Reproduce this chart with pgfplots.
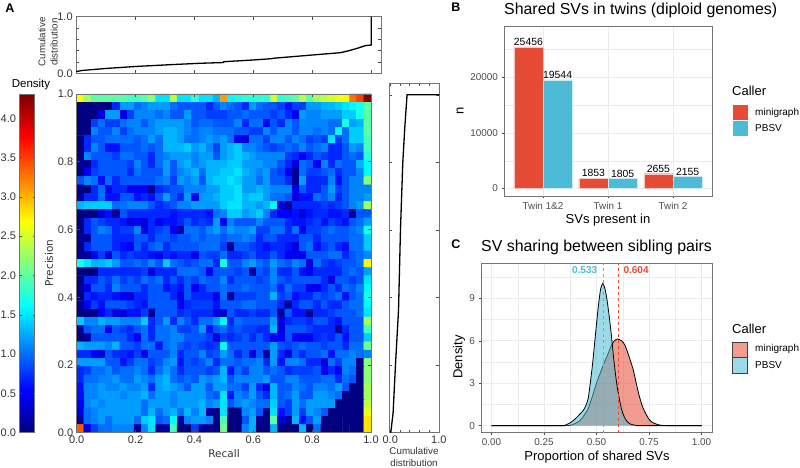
\documentclass[border=0pt]{standalone}
\usepackage{fontspec}
\setmainfont{Liberation Sans}
\newfontfamily\djv{DejaVu Sans}
\usepackage{pgfplots}
\pgfplotsset{compat=1.18}
\definecolor{npgred}{HTML}{E64B35}
\definecolor{npgblue}{HTML}{4DBBD5}
\definecolor{frameg}{gray}{0.45}
\definecolor{gridg}{gray}{0.92}
\definecolor{tickg}{gray}{0.3}
\pgfplotsset{
    panelA/.style={
        scale only axis,
        axis line style={draw=frameg,line width=0.9pt},
        tick align=inside,
        major tick length=3pt,
        tick style={draw=black!70,line width=0.5pt},
        ticklabel style={font=\fontsize{11}{13}\selectfont,text=black!80},
        /pgf/number format/assume math mode=true,
    },
    gg/.style={
        scale only axis,
        axis line style={draw=frameg,line width=0.9pt},
        tick align=outside,
        major tick length=2.5pt,
        tick style={draw=tickg,line width=0.5pt},
        xtick pos=bottom,ytick pos=left,
        scaled y ticks=false,
        ticklabel style={font=\fontsize{9.9}{11}\selectfont,text=tickg},
        grid=both,
        major grid style={draw=gridg,line width=0.7pt},
        minor grid style={draw=gridg,line width=0.35pt},
        minor tick length=0pt,
        /pgf/number format/assume math mode=true,
        /pgf/number format/1000 sep={},
    },
}
\begin{document}
\begin{tikzpicture}[x=1pt,y=1pt]
\useasboundingbox (0,0) rectangle (800,468);

% A: top marginal
\begin{axis}[panelA,at={(76.2pt,394.7pt)},anchor=south west,width=305pt,height=56.6pt,
    xmin=0,xmax=1.034,ymin=0,ymax=1,
    xtick={0.2,0.4,0.6,0.8,1.0},xticklabels={},
    ytick={0,0.2,0.4,0.6,0.8,1},yticklabels={0.0,,,,,1.0}]
\addplot[black,line width=1.3pt] coordinates {
(0,0.03) (0.02,0.05) (0.1,0.085) (0.2,0.12) (0.33,0.155) (0.42,0.177) (0.499,0.19) (0.5,0.205)
(0.6,0.235) (0.666,0.26) (0.667,0.265) (0.8,0.323) (0.896,0.364) (0.925,0.4) (0.952,0.44) (0.98,0.488) (1.0,0.5) (1.0,1.0)};
\end{axis}

% A: right marginal
\begin{axis}[panelA,at={(389.3pt,35.3pt)},anchor=south west,width=50pt,height=349.4pt,
    xmin=-0.02,xmax=1.01,ymin=0,ymax=1.034,
    xtick={0,0.2,0.4,0.6,0.8,1},xticklabels={0.0,,,,,1.0},
    ytick={0.2,0.4,0.6,0.8,1.0},yticklabels={}]
\addplot[black,line width=1.3pt] coordinates {
(0.01,0) (0.058,0.058) (0.107,0.2) (0.17,0.363) (0.21,0.6) (0.258,0.8) (0.30,0.905) (0.346,1.0) (1.01,1.0)};
\end{axis}

% A: heatmap
\begin{axis}[panelA,at={(76.7pt,35.3pt)},anchor=south west,width=294.3pt,height=338.7pt,
    xmin=0,xmax=1,ymin=0,ymax=1,axis on top,
    xtick={0,0.2,0.4,0.6,0.8,1},xticklabels={0.0,0.2,0.4,0.6,0.8,1.0},
    ytick={0,0.2,0.4,0.6,0.8,1},yticklabels={0.0,0.2,0.4,0.6,0.8,1.0},
    colormap/jet,point meta min=0,point meta max=4.3,
    colorbar,
    colorbar style={
        at={(parent axis.south west)},anchor=south west,xshift=-65.7pt,
        width=15pt,height=338pt,
        ytick={0,0.5,1,1.5,2,2.5,3,3.5,4},
        yticklabels={0.0,0.5,1.0,1.5,2.0,2.5,3.0,3.5,4.0},
        yticklabel pos=left,
        tick align=inside,
        major tick length=2pt,
        axis line style={draw=frameg,line width=0.6pt},
        tick style={draw=black!70,line width=0.4pt},
        ticklabel style={font=\fontsize{11}{13}\selectfont,text=black!80},
        /pgf/number format/assume math mode=true,
    }]
\addplot[matrix plot*,mesh/cols=41,point meta=explicit] table[header=false,row sep=\\,
    x expr={(mod(\coordindex,41)+0.5)/41},
    y expr={1-(floor((\coordindex+0.5)/41)+0.5)/41},
    meta index=0] {
2.7\\2.3\\2.0\\2.0\\2.0\\2.0\\2.0\\1.9\\1.9\\2.0\\2.2\\1.5\\1.5\\2.4\\1.5\\1.5\\1.8\\1.5\\1.5\\1.3\\3.1\\1.6\\1.7\\1.8\\1.8\\1.8\\1.8\\2.5\\1.8\\1.9\\2.0\\2.4\\2.0\\2.3\\2.4\\2.5\\2.6\\2.7\\3.3\\3.5\\4.3\\
0.0\\0.0\\0.0\\0.0\\0.0\\0.7\\1.2\\1.2\\1.0\\1.1\\1.2\\1.2\\1.2\\1.0\\0.9\\0.9\\0.9\\0.9\\0.7\\0.9\\1.1\\1.0\\0.9\\0.7\\1.2\\1.0\\0.9\\0.9\\0.8\\0.6\\0.8\\0.8\\1.2\\1.2\\1.3\\1.3\\1.4\\1.5\\1.6\\1.7\\2.0\\
0.0\\0.0\\0.0\\0.4\\1.2\\1.2\\0.4\\0.8\\1.1\\1.1\\1.1\\1.0\\1.1\\0.9\\0.9\\1.2\\0.9\\0.9\\0.8\\0.8\\0.8\\0.9\\0.9\\1.0\\0.9\\0.9\\0.9\\0.8\\0.9\\0.7\\0.5\\1.2\\1.1\\1.1\\1.2\\1.2\\1.2\\1.4\\1.4\\1.7\\2.0\\
0.0\\0.0\\0.8\\1.0\\0.8\\0.8\\1.0\\1.1\\1.1\\0.9\\1.1\\1.2\\1.2\\1.2\\1.2\\1.1\\0.9\\1.0\\1.0\\0.9\\0.9\\0.9\\1.1\\0.7\\1.0\\1.0\\0.5\\0.9\\0.7\\1.1\\0.9\\1.1\\1.1\\1.1\\1.1\\1.0\\1.0\\1.7\\1.2\\1.3\\2.0\\
0.0\\0.0\\1.1\\0.9\\0.9\\1.1\\0.8\\1.0\\1.1\\1.1\\1.1\\1.2\\1.3\\1.3\\1.2\\1.1\\1.0\\1.1\\1.1\\1.0\\1.0\\1.0\\0.9\\0.9\\0.8\\0.8\\1.1\\0.9\\1.1\\1.1\\0.9\\1.1\\1.1\\1.0\\1.1\\1.0\\1.6\\1.0\\1.4\\1.4\\2.0\\
0.0\\0.7\\0.9\\0.9\\1.0\\1.0\\1.0\\1.0\\0.9\\1.0\\1.2\\1.0\\1.3\\1.3\\1.2\\1.0\\1.0\\1.1\\1.2\\1.1\\1.2\\1.0\\0.5\\0.4\\1.0\\1.0\\0.8\\1.1\\1.1\\0.9\\1.1\\1.0\\0.8\\0.9\\0.8\\1.5\\0.8\\1.0\\1.4\\1.4\\1.9\\
0.0\\0.7\\1.1\\0.9\\0.6\\0.6\\0.9\\0.9\\0.9\\1.0\\0.9\\1.0\\1.3\\1.3\\1.3\\1.4\\1.2\\1.3\\1.1\\0.8\\1.2\\1.3\\1.4\\1.1\\1.1\\1.0\\0.9\\0.8\\0.9\\1.0\\0.9\\1.1\\0.9\\1.0\\1.1\\0.7\\0.7\\0.9\\1.2\\1.1\\1.9\\
0.0\\1.1\\0.9\\0.9\\0.9\\0.8\\1.0\\1.0\\0.9\\0.9\\0.7\\1.0\\1.1\\1.2\\1.2\\1.2\\1.1\\1.2\\1.2\\0.9\\1.2\\1.3\\1.4\\1.3\\1.2\\1.1\\1.1\\1.1\\1.1\\0.8\\0.7\\0.5\\0.7\\0.9\\0.8\\0.7\\0.7\\0.9\\1.0\\0.9\\1.8\\
0.1\\0.1\\0.7\\0.9\\0.9\\0.9\\0.9\\0.8\\1.1\\0.9\\0.7\\1.0\\1.2\\0.9\\1.2\\1.3\\1.1\\1.2\\1.3\\1.3\\1.3\\1.4\\1.4\\1.2\\1.2\\1.2\\1.1\\1.1\\0.9\\0.7\\0.4\\1.0\\0.9\\0.5\\1.1\\0.7\\1.0\\0.9\\0.9\\1.3\\1.6\\
0.0\\0.5\\0.8\\0.9\\0.9\\0.9\\0.9\\0.7\\1.0\\0.9\\0.9\\0.9\\1.2\\0.9\\1.1\\1.2\\1.3\\1.0\\1.3\\1.3\\1.4\\1.4\\1.5\\1.3\\1.2\\1.1\\1.2\\0.9\\0.8\\0.5\\0.1\\1.0\\0.8\\0.8\\0.9\\1.0\\0.7\\0.9\\0.9\\1.1\\1.6\\
0.9\\1.1\\1.0\\0.6\\1.0\\0.7\\0.9\\0.9\\0.9\\0.9\\0.9\\1.0\\1.1\\0.8\\1.2\\1.1\\1.2\\0.9\\1.3\\1.4\\1.4\\1.5\\1.4\\1.2\\1.2\\1.0\\1.2\\0.9\\0.9\\0.7\\0.1\\1.2\\0.7\\0.7\\0.7\\1.1\\0.6\\0.9\\1.1\\1.1\\2.2\\
0.0\\0.0\\0.7\\1.0\\0.5\\0.7\\0.7\\0.5\\0.5\\0.5\\0.1\\0.7\\0.8\\0.9\\0.9\\1.1\\1.1\\1.1\\1.2\\1.2\\1.4\\1.4\\1.5\\1.2\\1.2\\1.3\\1.2\\1.1\\1.1\\1.1\\0.5\\0.9\\0.7\\0.7\\0.9\\1.2\\0.8\\0.9\\1.1\\1.1\\1.1\\
0.1\\0.7\\0.7\\1.0\\0.6\\0.6\\0.9\\0.9\\0.6\\0.7\\0.6\\0.9\\1.2\\0.9\\0.7\\1.2\\0.5\\1.2\\1.2\\1.3\\1.4\\1.4\\1.5\\1.3\\1.4\\1.4\\1.2\\1.0\\1.0\\0.9\\0.4\\0.6\\0.6\\1.0\\0.9\\1.1\\0.7\\0.9\\1.1\\1.1\\1.2\\
1.3\\1.4\\1.4\\1.4\\1.4\\1.0\\1.0\\1.1\\1.1\\1.1\\0.9\\0.7\\0.8\\0.9\\1.1\\1.1\\1.2\\1.2\\1.2\\1.2\\1.4\\1.5\\1.5\\1.3\\1.3\\1.2\\1.3\\1.6\\0.4\\0.1\\0.7\\0.7\\0.7\\0.7\\0.8\\0.7\\0.8\\0.9\\1.1\\1.2\\2.3\\
0.0\\0.0\\0.0\\0.4\\0.6\\0.1\\0.9\\0.7\\0.7\\0.7\\0.7\\0.7\\0.7\\0.6\\0.7\\0.7\\0.7\\0.7\\0.6\\1.0\\1.1\\1.4\\1.4\\1.2\\1.3\\1.4\\1.1\\0.7\\0.5\\0.5\\0.6\\0.4\\0.6\\0.7\\0.7\\0.6\\0.6\\0.7\\0.1\\0.9\\0.9\\
0.0\\0.7\\0.9\\0.8\\0.7\\0.7\\0.6\\0.4\\0.5\\0.4\\0.7\\0.5\\0.6\\0.6\\0.7\\0.9\\0.7\\0.8\\0.7\\1.2\\0.5\\1.1\\0.9\\0.9\\0.9\\1.1\\0.9\\0.9\\0.9\\0.7\\0.6\\0.6\\0.7\\0.8\\0.6\\0.8\\0.7\\0.6\\0.9\\1.0\\1.2\\
0.0\\0.7\\0.9\\1.1\\1.0\\0.7\\0.8\\0.8\\1.1\\0.4\\0.7\\0.8\\0.9\\0.5\\0.1\\1.0\\1.0\\0.9\\1.1\\1.2\\1.0\\1.2\\1.1\\1.1\\1.2\\0.8\\0.8\\1.0\\1.0\\0.7\\1.0\\0.5\\0.8\\0.8\\0.9\\1.0\\0.9\\0.9\\1.0\\1.1\\1.7\\
0.1\\0.1\\0.9\\0.9\\0.9\\0.7\\0.7\\0.7\\0.9\\0.9\\0.7\\0.9\\0.9\\0.8\\0.9\\0.9\\1.0\\0.9\\1.0\\1.0\\0.9\\1.0\\1.0\\1.1\\1.0\\0.7\\0.9\\0.9\\0.7\\0.7\\0.7\\0.9\\0.9\\0.7\\0.9\\0.9\\0.9\\0.9\\1.0\\1.0\\1.4\\
0.0\\0.7\\0.9\\0.9\\0.9\\0.7\\0.6\\0.5\\0.9\\0.7\\0.9\\1.0\\0.7\\0.9\\0.9\\0.9\\0.9\\1.0\\1.0\\1.0\\0.8\\0.1\\0.9\\0.9\\0.8\\0.7\\0.6\\0.7\\0.7\\0.6\\0.4\\0.9\\1.0\\0.6\\0.8\\0.9\\0.7\\0.6\\1.0\\1.0\\1.4\\
0.1\\0.1\\0.5\\0.8\\0.4\\0.9\\0.7\\0.8\\0.7\\0.7\\0.6\\0.5\\0.7\\0.6\\0.7\\0.7\\0.5\\0.9\\0.8\\0.8\\1.0\\0.7\\0.7\\0.8\\0.9\\0.7\\0.7\\0.9\\0.7\\0.5\\0.5\\0.5\\0.9\\0.9\\0.9\\1.0\\1.0\\0.7\\0.9\\1.0\\1.1\\
1.7\\1.5\\1.3\\1.3\\1.4\\1.2\\0.9\\0.9\\1.0\\0.9\\1.1\\0.9\\1.4\\1.0\\0.9\\0.8\\0.9\\1.0\\1.0\\0.7\\1.7\\0.9\\0.9\\1.1\\1.2\\1.0\\0.9\\1.2\\1.0\\0.9\\1.1\\1.0\\0.4\\1.0\\0.8\\0.7\\0.8\\0.9\\0.9\\1.0\\2.7\\
0.0\\0.0\\0.0\\0.7\\0.7\\0.7\\0.7\\0.7\\0.7\\0.8\\0.4\\0.7\\0.7\\0.7\\1.0\\1.0\\1.0\\0.9\\0.5\\0.9\\0.9\\0.9\\0.8\\0.9\\0.1\\0.9\\0.8\\1.1\\0.7\\0.7\\0.9\\0.6\\0.5\\0.7\\0.7\\0.7\\0.7\\0.9\\1.0\\0.9\\1.2\\
0.0\\0.7\\0.7\\0.9\\0.8\\1.0\\0.8\\0.9\\0.8\\1.0\\0.9\\1.0\\0.7\\0.9\\0.7\\0.9\\0.8\\1.0\\0.9\\0.9\\1.1\\0.7\\0.9\\0.9\\0.9\\0.8\\0.9\\1.1\\0.9\\0.8\\0.9\\0.9\\0.9\\0.9\\0.7\\0.4\\0.9\\0.9\\0.8\\0.9\\1.5\\
0.1\\0.4\\0.9\\0.9\\0.7\\1.1\\0.9\\0.9\\0.9\\0.7\\0.9\\0.9\\0.6\\0.7\\0.6\\0.9\\0.5\\0.7\\0.9\\0.9\\1.0\\0.9\\0.9\\1.0\\0.9\\0.9\\0.9\\1.0\\0.7\\1.0\\0.8\\0.8\\0.5\\0.5\\0.7\\0.9\\0.7\\1.0\\0.9\\1.1\\1.6\\
0.0\\0.7\\0.6\\0.7\\0.7\\0.6\\0.5\\0.4\\0.7\\0.7\\0.9\\0.9\\0.9\\0.7\\0.4\\0.9\\0.7\\0.7\\0.7\\0.5\\1.0\\0.1\\0.8\\0.8\\0.8\\0.9\\0.9\\1.3\\0.8\\0.9\\0.6\\0.7\\0.7\\0.9\\0.8\\0.9\\1.0\\0.6\\0.9\\1.0\\1.7\\
0.1\\0.5\\0.8\\0.6\\0.9\\0.9\\0.9\\0.8\\0.7\\0.6\\0.9\\0.9\\0.9\\0.9\\0.5\\0.7\\0.8\\0.8\\0.8\\0.6\\0.9\\0.9\\0.9\\1.0\\1.0\\0.9\\0.9\\0.9\\0.7\\0.1\\0.7\\0.9\\0.9\\0.7\\0.9\\0.7\\0.7\\0.9\\1.0\\1.0\\1.6\\
0.0\\0.0\\0.0\\0.5\\0.7\\0.4\\0.4\\0.6\\0.6\\0.8\\0.1\\0.9\\0.9\\0.9\\0.7\\0.8\\0.7\\0.7\\0.7\\0.4\\0.4\\0.9\\0.7\\0.7\\0.8\\0.7\\0.7\\0.9\\0.1\\0.9\\0.6\\0.6\\0.1\\0.7\\0.7\\0.8\\0.9\\0.9\\0.9\\1.0\\1.5\\
1.4\\1.1\\1.1\\1.3\\1.2\\1.2\\1.1\\1.1\\1.1\\1.4\\0.7\\0.9\\1.2\\0.7\\1.1\\0.9\\0.7\\1.0\\1.0\\1.2\\1.6\\0.7\\1.0\\0.9\\0.9\\0.9\\0.9\\1.2\\0.4\\0.7\\0.8\\0.8\\0.7\\0.9\\0.9\\0.7\\0.6\\0.9\\0.9\\0.9\\2.3\\
0.1\\0.9\\1.0\\1.0\\0.5\\0.9\\0.8\\0.7\\0.9\\1.0\\0.7\\1.0\\1.0\\1.1\\0.8\\0.8\\0.9\\1.2\\0.6\\0.9\\1.0\\0.8\\0.9\\0.8\\0.8\\0.7\\0.7\\1.3\\0.4\\0.9\\0.9\\0.9\\0.8\\0.7\\0.7\\0.7\\0.1\\0.7\\0.9\\0.9\\1.9\\
0.0\\0.1\\0.9\\0.9\\0.9\\0.9\\0.9\\0.7\\0.5\\1.0\\0.7\\1.0\\1.0\\1.1\\1.1\\0.9\\0.9\\0.9\\0.8\\0.4\\0.8\\0.7\\0.8\\0.9\\0.7\\0.9\\0.7\\0.5\\0.5\\0.9\\0.5\\0.5\\0.5\\0.7\\0.8\\0.7\\0.9\\0.6\\0.9\\0.9\\1.4\\
1.3\\1.2\\1.2\\1.2\\1.1\\1.3\\0.9\\0.9\\0.8\\1.0\\1.0\\0.6\\1.0\\1.1\\0.9\\0.8\\0.9\\0.8\\0.7\\0.8\\1.6\\0.9\\0.9\\0.9\\0.9\\0.9\\0.9\\1.2\\0.9\\0.8\\0.9\\1.0\\0.9\\0.9\\0.8\\0.9\\0.9\\0.7\\1.0\\1.0\\2.1\\
0.7\\0.7\\0.5\\0.4\\0.9\\0.7\\0.7\\0.6\\0.8\\0.5\\0.9\\0.9\\0.9\\1.1\\0.7\\0.9\\0.9\\1.1\\0.8\\0.9\\1.2\\1.0\\0.7\\0.9\\0.4\\0.9\\0.1\\1.2\\0.7\\0.4\\0.9\\0.7\\0.9\\0.9\\1.0\\0.6\\1.0\\1.0\\1.1\\1.0\\1.1\\
1.2\\1.2\\1.2\\1.2\\0.9\\0.9\\0.6\\0.8\\1.0\\1.0\\0.8\\0.9\\1.1\\1.2\\0.6\\0.9\\0.8\\0.9\\1.1\\0.7\\1.0\\1.0\\0.9\\1.0\\1.0\\1.1\\0.7\\1.2\\0.6\\1.1\\1.1\\1.0\\0.7\\0.7\\0.4\\1.0\\0.8\\1.1\\1.1\\0.0\\2.2\\
0.7\\0.8\\1.0\\1.0\\1.1\\0.9\\1.0\\1.0\\1.1\\1.0\\0.7\\1.0\\1.2\\1.0\\0.7\\0.9\\0.9\\0.9\\0.8\\0.9\\1.3\\0.6\\1.0\\0.8\\1.1\\1.1\\0.9\\1.0\\0.9\\0.7\\0.8\\0.8\\0.8\\0.9\\0.5\\0.7\\0.5\\1.1\\1.0\\0.0\\2.2\\
0.7\\1.0\\1.0\\1.1\\1.1\\1.2\\1.0\\1.0\\1.2\\1.1\\1.0\\1.2\\1.3\\1.0\\0.9\\1.0\\0.9\\1.2\\1.1\\1.2\\1.3\\0.9\\1.1\\1.1\\1.1\\1.1\\1.2\\0.9\\0.9\\1.1\\1.1\\0.9\\0.9\\0.9\\1.0\\1.0\\0.7\\1.0\\0.9\\0.0\\2.2\\
0.6\\1.1\\1.1\\1.2\\1.1\\1.1\\1.2\\1.1\\1.1\\1.2\\0.7\\1.2\\1.3\\1.2\\1.1\\0.9\\1.2\\1.2\\0.9\\1.2\\1.2\\1.0\\1.0\\0.8\\1.2\\0.7\\0.4\\1.3\\0.9\\0.9\\1.1\\1.0\\0.9\\1.1\\1.1\\1.0\\1.2\\0.9\\0.0\\0.0\\2.3\\
0.6\\1.1\\1.1\\1.2\\1.2\\1.2\\1.1\\1.2\\1.2\\1.3\\1.0\\1.2\\1.2\\1.1\\1.2\\1.2\\1.2\\1.2\\1.0\\0.9\\1.5\\0.6\\1.1\\1.0\\1.2\\0.9\\0.7\\1.3\\0.9\\1.0\\1.2\\0.9\\0.9\\1.2\\1.2\\1.1\\1.0\\0.0\\0.0\\0.0\\2.3\\
0.5\\1.1\\1.2\\1.1\\1.2\\1.2\\1.2\\1.2\\1.2\\1.0\\1.2\\1.2\\1.2\\1.1\\1.2\\1.2\\1.2\\1.3\\1.1\\1.2\\1.5\\0.9\\1.1\\1.2\\1.1\\1.0\\1.0\\1.4\\0.9\\0.8\\1.2\\1.0\\1.2\\1.2\\1.2\\1.2\\0.0\\0.0\\0.0\\0.0\\2.4\\
0.4\\1.0\\1.1\\1.2\\1.2\\1.2\\1.2\\1.2\\1.2\\1.0\\1.3\\1.0\\1.2\\1.3\\1.0\\1.3\\1.1\\1.3\\0.1\\0.0\\1.5\\0.0\\0.0\\1.1\\1.2\\0.9\\0.0\\1.5\\0.6\\0.8\\1.2\\0.8\\1.2\\1.1\\0.9\\0.0\\0.0\\0.0\\0.0\\0.0\\2.6\\
0.1\\1.0\\1.1\\1.2\\1.0\\1.2\\1.2\\1.2\\1.0\\1.4\\1.5\\0.9\\1.0\\1.6\\0.1\\1.1\\1.2\\1.2\\1.1\\0.0\\1.9\\0.0\\0.0\\0.9\\1.3\\0.1\\0.0\\2.0\\0.4\\0.1\\1.3\\0.6\\0.9\\1.2\\0.0\\0.0\\0.0\\0.0\\0.0\\0.0\\2.8\\
3.4\\0.4\\0.8\\1.0\\1.0\\1.1\\1.1\\1.1\\0.1\\1.1\\1.5\\0.1\\0.1\\1.9\\0.0\\0.0\\0.8\\0.1\\0.1\\0.0\\2.1\\0.0\\0.0\\1.1\\1.3\\0.0\\0.0\\1.3\\0.0\\0.0\\0.0\\1.3\\0.0\\1.0\\0.0\\0.0\\0.0\\0.0\\0.0\\0.0\\2.8\\
};
\end{axis}

% B: shared SVs in twins
\begin{axis}[gg,at={(504pt,272pt)},anchor=south west,width=208pt,height=170pt,
    xmin=0.4,xmax=3.6,ymin=-1350,ymax=29230,
    xtick={1,2,3},xticklabels={Twin 1\&2,Twin 1,Twin 2},
    ytick={0,10000,20000},minor ytick={5000,15000,25000},
    ybar=0pt,
    nodes near coords,point meta=y,
    every node near coord/.append style={font=\fontsize{10.4}{12}\selectfont,text=black,anchor=south,inner sep=1pt,
        /pgf/number format/assume math mode=true,/pgf/number format/1000 sep={}}]
\addplot[ybar,bar width=29.2pt,bar shift=-14.6pt,fill=npgred,draw=npgred!30!white,line width=0.3pt] coordinates {(1,25456) (2,1853) (3,2655)};
\addplot[ybar,bar width=29.2pt,bar shift=14.6pt,fill=npgblue,draw=npgblue!30!white,line width=0.3pt] coordinates {(1,19544) (2,1805) (3,2155)};
\end{axis}

% C: sibling pairs
\begin{axis}[gg,at={(481pt,35.3pt)},anchor=south west,width=231pt,height=169.7pt,
    xmin=-0.05,xmax=1.05,ymin=-0.5,ymax=11.5,
    xtick={0,0.25,0.5,0.75,1},xticklabels={0.00,0.25,0.50,0.75,1.00},
    minor xtick={0.125,0.375,0.625,0.875},
    ytick={0,3,6,9},minor ytick={1.5,4.5,7.5,10.5},
    clip=false]
\addplot[draw=black,line width=0.8pt,fill=npgred,fill opacity=0.55,draw opacity=1,smooth,tension=0.4] coordinates {
(0,0) (0.34,0) (0.38,0.05) (0.42,0.35) (0.46,1.2) (0.50,3.0) (0.53,4.2) (0.55,4.9) (0.57,5.65) (0.585,6.0) (0.60,6.13) (0.62,6.0) (0.635,5.7) (0.65,5.1) (0.675,3.94) (0.70,2.3) (0.722,1.23) (0.75,0.45) (0.77,0.2) (0.80,0.04) (0.84,0) (1,0)};
\addplot[draw=black,line width=0.8pt,fill=npgblue,fill opacity=0.55,draw opacity=1,smooth,tension=0.4] coordinates {
(0,0) (0.32,0) (0.35,0.03) (0.38,0.25) (0.40,0.5) (0.42,0.8) (0.44,1.15) (0.46,1.9) (0.48,4.2) (0.50,7.2) (0.51,8.6) (0.52,9.7) (0.53,10.05) (0.54,9.7) (0.55,8.9) (0.56,7.8) (0.57,6.5) (0.58,5.0) (0.59,3.7) (0.60,2.6) (0.62,1.1) (0.64,0.4) (0.66,0.12) (0.69,0.01) (0.72,0) (1,0)};
\addplot[dashed,npgblue,line width=0.7pt] coordinates {(0.533,-0.5) (0.533,11.5)};
\addplot[dashed,npgred,line width=0.7pt] coordinates {(0.604,-0.5) (0.604,11.5)};
\node[font=\bfseries\fontsize{10}{12}\selectfont,text=npgblue,anchor=east] at (axis cs:0.52,10.97) {0.533};
\node[font=\bfseries\fontsize{10}{12}\selectfont,text=npgred,anchor=west] at (axis cs:0.612,10.97) {0.604};
\end{axis}

% panel letters and titles
\node[font=\bfseries\fontsize{12.5}{14}\selectfont] at (10,460) {A};
\node[font=\bfseries\fontsize{12.5}{14}\selectfont] at (456,461) {B};
\node[font=\bfseries\fontsize{12.5}{14}\selectfont] at (456,224) {C};
\node[font=\fontsize{15.9}{18}\selectfont,anchor=west,inner sep=0pt] at (504,458) {Shared SVs in twins (diploid genomes)};
\node[font=\fontsize{15.9}{18}\selectfont,anchor=west,inner sep=0pt] at (481,221) {SV sharing between sibling pairs};

% axis titles, panel A
\node[font=\fontsize{9.8}{12.3}\selectfont,text=black!80,rotate=90,align=center] at (48,426) {Cumulative\\distribution};
\node[font=\fontsize{11.5}{14}\selectfont] at (31,383) {Density};
\node[font=\djv\fontsize{10.5}{12}\selectfont,text=black!80,rotate=90] at (49,205) {Precision};
\node[font=\djv\fontsize{10.5}{12}\selectfont,text=black!80] at (224,14) {Recall};
\node[font=\fontsize{9.8}{12.3}\selectfont,text=black!80,align=center] at (414,11) {Cumulative\\distribution};

% axis titles, panels B and C
\node[font=\fontsize{13}{15}\selectfont] at (608,248) {SVs present in};
\node[font=\fontsize{13}{15}\selectfont,rotate=90] at (460,357) {n};
\node[font=\fontsize{13}{15}\selectfont] at (597,11) {Proportion of shared SVs};
\node[font=\fontsize{13}{15}\selectfont,rotate=90] at (459,111) {Density};

% legends
\node[font=\fontsize{13}{15}\selectfont,anchor=west,inner sep=0pt] at (732,377) {Caller};
\fill[npgred] (732.5,347.5) rectangle (747.5,363);
\fill[npgblue] (732.5,332) rectangle (747.5,347);
\node[font=\fontsize{10}{12}\selectfont,anchor=west,inner sep=0pt] at (755,355) {minigraph};
\node[font=\fontsize{10}{12}\selectfont,anchor=west,inner sep=0pt] at (755,340) {PBSV};

\node[font=\fontsize{13}{15}\selectfont,anchor=west,inner sep=0pt] at (732,139) {Caller};
\filldraw[fill=npgred,fill opacity=0.55,draw=black!75,line width=0.6pt] (732.5,110.5) rectangle (747.5,126);
\filldraw[fill=npgblue,fill opacity=0.55,draw=black!75,line width=0.6pt] (732.5,95) rectangle (747.5,110.5);
\node[font=\fontsize{10}{12}\selectfont,anchor=west,inner sep=0pt] at (755,119) {minigraph};
\node[font=\fontsize{10}{12}\selectfont,anchor=west,inner sep=0pt] at (755,103) {PBSV};
\end{tikzpicture}
\end{document}
